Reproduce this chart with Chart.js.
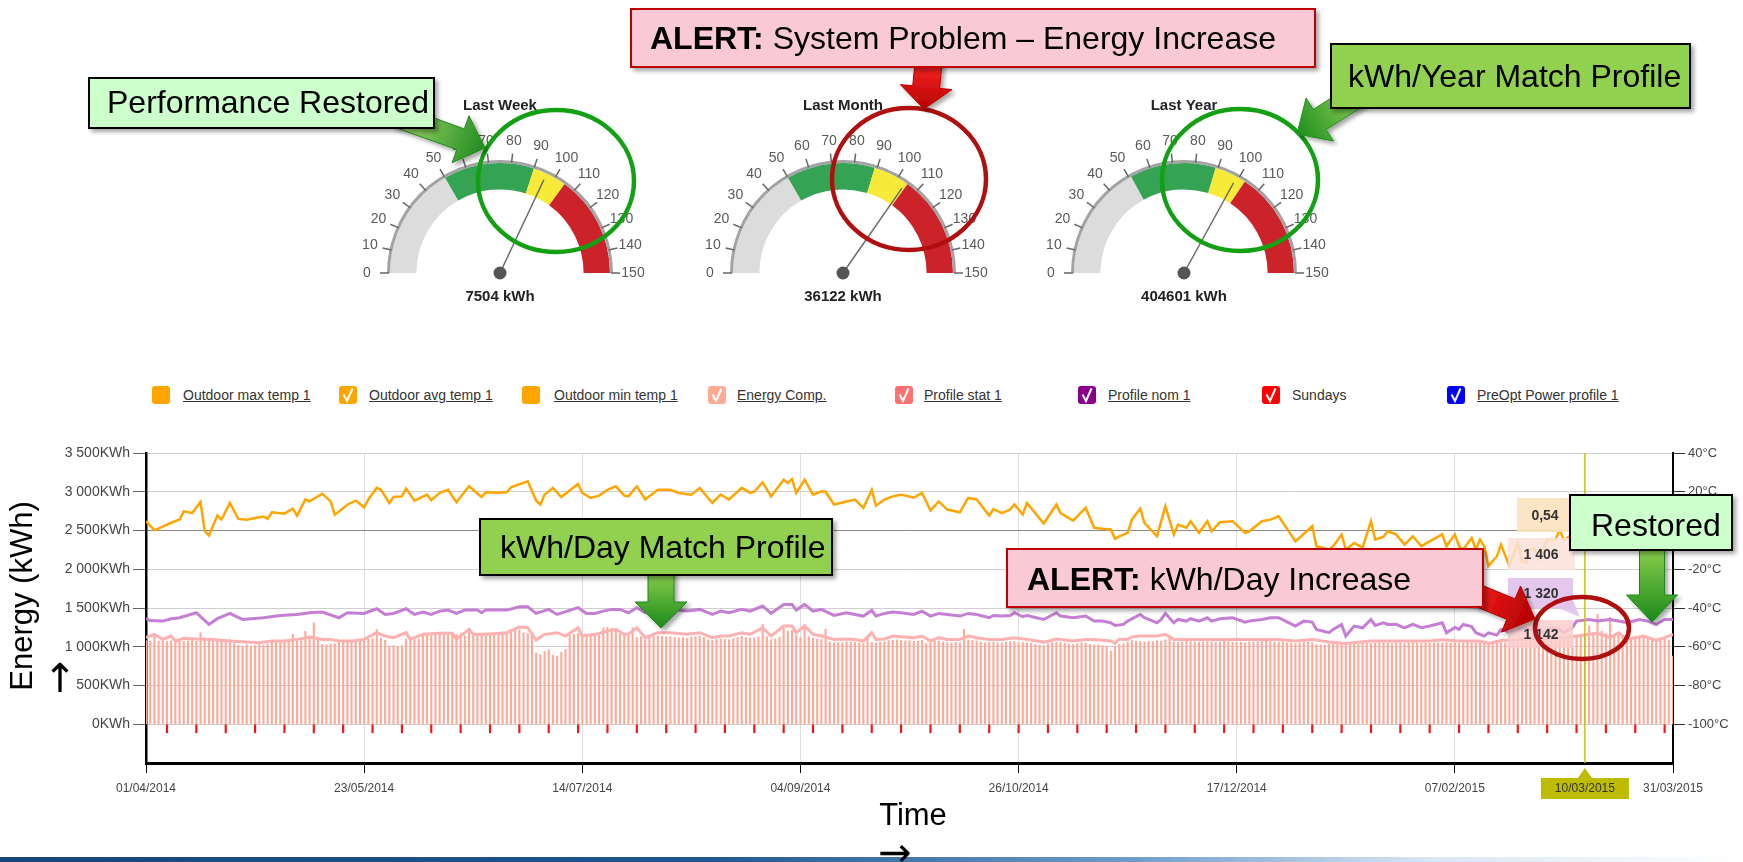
<!DOCTYPE html>
<html lang="en">
<head>
<meta charset="UTF-8">
<title>Energy Monitoring Dashboard</title>
<script src="https://cdn.jsdelivr.net/npm/chart.js"></script>
<style>
    body {
        margin: 0;
        width: 1743px;
        height: 862px;
        position: relative;
        overflow: hidden;
        background: #fff;
        font-family: Arial, "Liberation Sans", sans-serif;
    }
    canvas { position: absolute; }
    #mainChart { left: 0; top: 440px; }
    .legend-item { position: absolute; top: 386px; height: 18px; }
    .legend-box { position: absolute; left: 0; top: 0; width: 18px; height: 18px; border-radius: 3px; }
    .legend-text { position: absolute; top: 1px; white-space: nowrap; font-size: 14px; color: #333; }
    #overlay { position: absolute; left: 0; top: 0; }
    #bottomStrip {
        position: absolute; left: 0; top: 857px; width: 1743px; height: 5px;
        background: linear-gradient(90deg, #17467a 0%, #1f5590 40%, #6f9cc8 65%, #d8e6f3 82%, #ffffff 100%);
    }
</style>
</head>
<body>
<canvas id="gauge0" width="340" height="240"></canvas>
<canvas id="gauge1" width="340" height="240"></canvas>
<canvas id="gauge2" width="340" height="240"></canvas>
<canvas id="mainChart" width="1743" height="400"></canvas>
<div id="legend"></div>
<div id="bottomStrip"></div>
<svg id="overlay" width="1743" height="862" xmlns="http://www.w3.org/2000/svg"></svg>

<script>
// ---------- gauges ----------
const gaugeTitles = ['Last Week', 'Last Month', 'Last Year'];
const gaugeTotals = ['7504 kWh', '36122 kWh', '404601 kWh'];
const gaugeNeedles = [96, 104, 99];
const gaugeBands = [[50, 90, 105], [50, 89, 105], [51, 89, 103]]; // green / yellow / red start
const gaugeTicks = [0, 10, 20, 30, 40, 50, 60, 70, 80, 90, 100, 110, 120, 130, 140, 150];
const gaugeMax = 150;
const gaugeColors = ['#dcdcdc', '#34a354', '#f7ea38', '#cc2229'];
const gaugeCentersX = [500, 843, 1184];

// ---------- main chart ----------
const xTickLabels = ['01/04/2014', '23/05/2014', '14/07/2014', '04/09/2014', '26/10/2014', '17/12/2014', '07/02/2015', '31/03/2015'];
const highlightDay = 343;
const highlightLabel = '10/03/2015';
const tooltipValues = ['0,54', '1 406', '1 320', '1 142'];

// outdoor avg temp (°C) : [day, value]
const avgTempPoints = [
    [0,4.8],[2,0.1],[4,2],[6,4],[8,5.7],[9,9.9],[11,9],[13,14.8],[14,-0.4],[15,-2.6],[17,7.7],[18,5.7],[20,14.2],
    [22,6],[24,5.6],[26,6.5],[28,7.2],[29,6],[30,9.4],[33,8.7],[35,11.3],[36,7.7],[38,16],[39,15],[42,19],[44,15],
    [45,8.2],[48,13.3],[50,15.4],[52,12],[53,16],[55,22],[56,21],[58,14.2],[59,17.3],[61,17.6],[62,21.6],[64,15.4],
    [67,18.5],[68,15.6],[70,19.4],[72,21],[74,14.6],[77,22.8],[80,17.3],[81,19.7],[84,19.5],[86,19.7],[87,22.3],
    [91,25.4],[93,15.4],[94,13.4],[95,18.5],[97,22],[99,17.3],[103,24],[104,19.4],[106,16.8],[108,18],[110,21],
    [112,22.8],[114,18],[115,17.6],[117,22.8],[119,16],[122,21],[125,21],[127,19.4],[130,18.5],[132,22],[135,14.2],
    [137,18.5],[139,16],[142,22],[144,19.4],[145,20],[147,24.9],[149,17.6],[152,26.2],[153,24.5],[154,26.6],[155,19.4],
    [157,26.2],[159,18.5],[161,20.2],[162,20],[164,13.4],[167,15],[169,16],[171,11.7],[173,21],[174,12.8],[176,16],
    [178,17.6],[180,18.5],[183,17],[185,19.4],[187,10.3],[189,15],[191,10.8],[194,9.4],[196,16.8],[198,16],[201,7.7],
    [202,11.1],[204,9],[206,10.8],[207,13.4],[209,8.2],[210,14.2],[214,3.6],[217,13.4],[218,9],[221,5.1],[224,11.7],
    [226,1.4],[228,0.9],[230,0.5],[231,-4.3],[232,-3],[234,-1.2],[235,5.6],[237,11.3],[238,4],[241,-3],[242,4.8],
    [243,12.5],[245,-2],[246,3],[248,1.4],[249,4.8],[251,-1.2],[253,4.8],[254,-0.4],[256,4.3],[259,4.8],[262,-1.2],
    [263,-0.4],[266,4.8],[268,5.6],[270,7.3],[274,-5.6],[278,2.2],[279,-8.1],[282,-9.8],[283,-8.1],[285,-2.1],
    [286,-9.8],[288,-6.5],[290,-8.9],[292,4.8],[293,-4.7],[295,-3.2],[296,-0.4],[298,-2],[300,-7.3],[302,-3],
    [304,-8.1],[306,-5.6],[309,-2],[310,-8.1],[312,-2],[313,-8.1],[314,-9.8],[316,-3.8],[317,-9.8],[318,-4.7],
    [319,-8.1],[320,-18.4],[322,-13.4],[323,-7.3],[325,-18.4],[327,-6.4],[328,-15.8],[329,-16.7],[330,-9.8],
    [331,-9],[332,-15],[334,-4.7],[336,-4.7],[337,0.5],[338,-5],[340,-2],[342,1],[344,-3],[346,-1],[348,2],
    [350,-4],[352,0],[354,-2],[356,3],[358,-1],[360,2],[362,-3],[364,0]
];

// profile nom 1 (kWh) : [day, value]
const profileNomPoints = [
    [0,1362],[1,1340],[4,1331],[6,1362],[8,1374],[12,1439],[15,1288],[17,1362],[20,1430],[23,1352],[28,1374],
    [32,1404],[36,1417],[39,1439],[42,1447],[46,1374],[48,1439],[52,1430],[55,1490],[57,1417],[59,1430],[62,1490],
    [64,1417],[66,1447],[68,1417],[70,1460],[72,1473],[74,1430],[76,1473],[79,1473],[80,1439],[81,1473],[86,1473],
    [89,1516],[91,1516],[93,1430],[96,1482],[98,1417],[103,1504],[105,1430],[107,1430],[109,1460],[111,1482],
    [113,1482],[115,1439],[117,1504],[119,1439],[122,1482],[125,1482],[129,1460],[132,1482],[135,1417],[137,1460],
    [139,1439],[142,1482],[144,1460],[147,1525],[149,1430],[152,1546],[154,1546],[155,1473],[157,1546],[159,1460],
    [161,1482],[164,1404],[167,1439],[169,1417],[171,1396],[173,1469],[174,1396],[176,1430],[178,1447],[180,1439],
    [183,1417],[185,1460],[187,1396],[189,1430],[191,1417],[194,1396],[196,1430],[198,1417],[201,1374],[202,1404],
    [204,1396],[206,1404],[207,1439],[209,1387],[210,1404],[214,1352],[217,1439],[218,1396],[221,1374],[224,1396],
    [226,1331],[228,1331],[230,1309],[231,1275],[233,1288],[234,1331],[235,1360],[237,1417],[238,1374],[241,1309],
    [242,1352],[243,1430],[245,1309],[246,1352],[248,1331],[249,1362],[251,1331],[253,1374],[254,1331],[256,1362],
    [259,1374],[262,1318],[263,1331],[266,1352],[268,1374],[270,1374],[274,1267],[276,1331],[278,1318],[279,1224],
    [282,1181],[283,1224],[285,1288],[286,1138],[288,1267],[290,1245],[292,1352],[293,1275],[295,1309],[296,1288],
    [298,1290],[300,1245],[302,1288],[304,1245],[306,1267],[309,1309],[310,1181],[312,1250],[313,1224],[314,1288],
    [316,1260],[317,1181],[319,1138],[320,1180],[322,1150],[323,1224],[325,1190],[328,1245],[330,1224],[332,1245],
    [333,1181],[335,1245],[337,1224],[338,1181],[340,1245],[341,1331],[344,1352],[346,1331],[349,1352],[351,1331],
    [353,1309],[356,1352],[358,1331],[360,1288],[362,1352],[364,1352]
];

// profile stat 1 (kWh) : [day, value]
const profileStatPoints = [
    [0,1117],[2,1160],[4,1095],[6,1138],[7,1074],[9,1108],[12,1100],[16,1095],[20,1074],[24,1060],[27,1052],
    [30,1074],[33,1074],[36,1095],[39,1125],[42,1095],[44,1095],[46,1074],[49,1074],[52,1095],[55,1181],[57,1138],
    [59,1117],[62,1181],[63,1095],[66,1160],[70,1173],[73,1173],[74,1095],[77,1224],[78,1160],[81,1160],[86,1181],
    [89,1255],[91,1245],[93,1086],[95,1160],[98,1181],[100,1138],[103,1245],[104,1138],[107,1160],[110,1202],
    [112,1224],[114,1160],[115,1160],[117,1245],[119,1117],[122,1181],[125,1181],[129,1160],[132,1181],[135,1117],
    [137,1138],[139,1138],[142,1181],[144,1160],[147,1245],[149,1138],[152,1267],[154,1267],[155,1181],[157,1267],
    [159,1160],[161,1138],[164,1095],[167,1100],[169,1095],[171,1074],[173,1181],[174,1095],[176,1100],[178,1138],
    [180,1130],[183,1117],[185,1138],[187,1074],[189,1117],[191,1095],[194,1095],[196,1138],[198,1117],[201,1095],
    [204,1095],[207,1117],[210,1095],[214,1060],[217,1100],[218,1095],[221,1074],[224,1095],[226,1095],[230,1074],
    [231,1043],[232,1100],[234,1095],[235,1125],[237,1138],[241,1138],[243,1160],[245,1095],[248,1095],[251,1095],
    [254,1095],[259,1095],[263,1095],[270,1095],[274,1074],[278,1095],[282,1060],[286,1043],[292,1074],[296,1074],
    [301,1074],[306,1074],[309,1090],[313,1074],[318,1074],[320,1043],[323,1080],[328,1095],[333,1103],[338,1117],
    [341,1138],[344,1160],[346,1173],[349,1117],[351,1181],[353,1095],[357,1138],[360,1086],[362,1117],[364,1160]
];

// daily energy (kWh), one value per day from 01/04/2014
const energyDaily = [
    1080,1075,1160,1070,1085,1065,1078, 1072,1080,1068,1075,1082,1070,1181, 1090,1095,1085,1098,1092,1088,1095,
    1040,1020,1010,1025,1005,1015,1030, 1020,1035,1074,1070,1078,1072,1068, 1160,1075,1080,1200,1120,1310,1090,
    1030,1025,1035,1040,1074,1060,1070, 1065,1078,1072,1090,1095,1100,1224, 1110,1085,1009,1015,1005,1012,1100,
    1095,1092,1098,1165,1170,1160,1175, 1180,1170,1165,1175,1160,1172,1140, 1180,1175,1170,1165,1178,1172,1168,
    1175,1170,1180,1224,1230,1215,1180, 1170,1150,920,900,940,960,890,      880,930,966,1150,1160,1170,1165,
    1160,1150,1165,1170,1245,1250,1240, 1235,1160,1150,1140,1245,1120,1130, 1090,1125,1130,1140,1135,1128,1130,
    1120,1115,1118,1110,1125,1130,1135, 1120,1090,1080,1095,1100,1095,1090, 1105,1120,1135,1118,1110,1115,1125,
    1288,1130,1090,1100,1120,1245,1200, 1210,1150,1120,1288,1130,1110,1100, 1095,1224,1060,1052,1055,1050,1062,
    1060,1058,1052,1040,1130,1055,1050, 1060,1065,1080,1085,1090,1082,1075, 1078,1070,1072,1085,1040,1045,1070,
    1075,1060,1055,1050,1058,1052,1224, 1090,1080,1075,1060,1050,1055,1058, 1052,1050,1060,1065,1070,1050,1055,
    1052,1045,1030,1020,1015,1040,1055, 1060,1055,1045,1035,1030,1040,1050, 1048,1030,1020,1025,1015,1010,945,
    1005,1030,1040,1060,1080,1070,1065, 1060,1070,1065,1080,1075,1090,1110, 1060,1055,1060,1070,1065,1060,1058,
    1062,1065,1060,1055,1062,1070,1065, 1060,1055,1058,1050,1062,1060,1065, 1068,1070,1065,1060,1058,1062,1050,
    1045,1040,1050,1055,1060,1052,1030, 1025,1020,1030,1040,1035,1030,1020, 1035,1040,1030,1045,1050,1040,1045,
    1050,1048,1045,1040,1052,1050,1040, 1045,1050,1048,1040,1052,1045,1050, 1052,1050,1055,1048,1052,1045,1050,
    1055,1050,1048,1052,1040,1035,1045, 1050,1055,1052,1048,1060,1055,1058, 1062,1065,1060,1070,1068,1072,1075,
    1080,1085,1090,1095,1110,1140,1150, 1160,1267,1180,1417,1200,1170,1380, 1160,1180,1150,1120,1100,1095,1110,
    1120,1105,1090,1080,1095,1100,1085, 880
];

// Sunday markers (day index)
const sundayDays = [5,12,19,26,33,40,47,54,61,68,75,82,89,96,103,110,117,124,131,138,145,152,159,166,173,180,
    187,194,201,208,215,222,229,236,243,250,257,264,271,278,285,292,299,306,313,320,327,334,341,348,355,362];
const sundayTick = [-110, 0];

// legend
const legendNames = ['Outdoor max temp 1', 'Outdoor avg temp 1', 'Outdoor min temp 1', 'Energy Comp.',
    'Profile stat 1', 'Profile nom 1', 'Sundays', 'PreOpt Power profile 1'];
const legendColors = ['#ffa500', '#ffa500', '#ffa500', '#ffab94', '#ff7070', '#8b008b', '#ff0000', '#0000ff'];
const legendChecked = [false, true, false, true, true, true, true, true];
const legendUnderlined = [true, true, true, true, true, true, false, true];
const legendBoxX = [152, 339, 522, 708, 895, 1078, 1262, 1447];
const legendTextX = [183, 369, 554, 737, 924, 1108, 1292, 1477];

Chart.defaults.font.family = 'Arial, "Liberation Sans", sans-serif';

// ---------- gauges ----------
const gaugeDecor = {
    id: 'gaugeDecor',
    afterDatasetsDraw(chart, args, opts) {
        const arc = chart.getDatasetMeta(0).data[0];
        const cx = arc.x, cy = arc.y, R = arc.outerRadius;
        const ctx = chart.ctx;
        const ang = v => Math.PI + v / gaugeMax * Math.PI;
        ctx.save();
        ctx.beginPath();
        ctx.arc(cx, cy, R + 1.5, Math.PI, 2 * Math.PI);
        ctx.strokeStyle = '#a3a3a3';
        ctx.lineWidth = 3;
        ctx.stroke();

        ctx.font = '14px Arial, "Liberation Sans", sans-serif';
        ctx.fillStyle = '#5a5a5a';
        ctx.textAlign = 'center';
        ctx.textBaseline = 'middle';
        gaugeTicks.forEach(v => {
            const a = ang(v), c = Math.cos(a), s = Math.sin(a);
            ctx.beginPath();
            ctx.moveTo(cx + c * (R + 1), cy + s * (R + 1));
            ctx.lineTo(cx + c * (R + 10), cy + s * (R + 10));
            ctx.strokeStyle = '#666';
            ctx.lineWidth = 1.5;
            ctx.stroke();
            ctx.fillText(String(v), cx + c * 133, cy + s * 133);
        });

        const a = ang(opts.needle);
        ctx.beginPath();
        ctx.moveTo(cx, cy);
        ctx.lineTo(cx + Math.cos(a) * (R - 7), cy + Math.sin(a) * (R - 7));
        ctx.strokeStyle = '#6a6a6a';
        ctx.lineWidth = 1.5;
        ctx.stroke();
        ctx.beginPath();
        ctx.arc(cx, cy, 6.5, 0, 2 * Math.PI);
        ctx.fillStyle = '#555';
        ctx.fill();

        ctx.fillStyle = '#222';
        ctx.font = 'bold 15px Arial, "Liberation Sans", sans-serif';
        ctx.fillText(opts.title, cx, cy - 167);
        ctx.fillText(opts.total, cx, cy + 24);
        ctx.restore();
    }
};

gaugeTitles.forEach((title, i) => {
    const canvas = document.getElementById('gauge' + i);
    canvas.style.left = (gaugeCentersX[i] - 170) + 'px';
    canvas.style.top = '93px';
    const b = gaugeBands[i];
    new Chart(canvas, {
        type: 'doughnut',
        data: {
            datasets: [{
                data: [b[0], b[1] - b[0], b[2] - b[1], gaugeMax - b[2]],
                backgroundColor: gaugeColors,
                borderWidth: 0
            }]
        },
        options: {
            responsive: false,
            animation: false,
            events: [],
            rotation: -90,
            circumference: 180,
            cutout: '76%',
            layout: { padding: { left: 60, right: 60, top: 70, bottom: 60 } },
            plugins: {
                legend: { display: false },
                tooltip: { enabled: false },
                gaugeDecor: { title: title, total: gaugeTotals[i], needle: gaugeNeedles[i] }
            }
        },
        plugins: [gaugeDecor]
    });
});

// ---------- main chart ----------
const toXY = pairs => pairs.map(p => ({ x: p[0], y: p[1] }));
const kwhLabel = v => (v >= 1000 ? Math.floor(v / 1000) + ' ' + String(v % 1000).padStart(3, '0') : String(v)) + 'KWh';

const highlightPlugin = {
    id: 'highlightPlugin',
    afterDatasetsDraw(chart) {
        const ctx = chart.ctx, area = chart.chartArea;
        const x = chart.scales.x.getPixelForValue(highlightDay);
        ctx.save();
        ctx.beginPath();
        ctx.moveTo(x, area.top);
        ctx.lineTo(x, area.bottom);
        ctx.strokeStyle = '#c8c400';
        ctx.lineWidth = 1.5;
        ctx.stroke();
        ctx.restore();
    },
    afterDraw(chart) {
        const ctx = chart.ctx, area = chart.chartArea;
        const x = chart.scales.x.getPixelForValue(highlightDay);
        const top = area.bottom + 15, w = 88, h = 21;
        ctx.save();
        ctx.fillStyle = '#bdbc00';
        ctx.beginPath();
        ctx.moveTo(x - 7, top);
        ctx.lineTo(x, top - 10);
        ctx.lineTo(x + 7, top);
        ctx.fill();
        ctx.fillRect(x - w / 2, top, w, h);
        ctx.fillStyle = '#333';
        ctx.font = '12px Arial, "Liberation Sans", sans-serif';
        ctx.textAlign = 'center';
        ctx.textBaseline = 'middle';
        ctx.fillText(highlightLabel, x, top + h / 2);
        ctx.restore();
    }
};

new Chart(document.getElementById('mainChart'), {
    type: 'line',
    data: {
        datasets: [
            { type: 'line', label: 'Outdoor avg temp 1', data: toXY(avgTempPoints), yAxisID: 'yTemp',
              borderColor: '#ffa500', borderWidth: 2.5, pointRadius: 0, tension: 0, order: 1 },
            { type: 'line', label: 'Profile nom 1', data: toXY(profileNomPoints), yAxisID: 'y',
              borderColor: '#c47ed3', borderWidth: 3, pointRadius: 0, tension: 0, order: 2 },
            { type: 'line', label: 'Profile stat 1', data: toXY(profileStatPoints), yAxisID: 'y',
              borderColor: '#ffb0b0', borderWidth: 3, pointRadius: 0, tension: 0, order: 3 },
            { type: 'bar', label: 'Energy Comp.', data: energyDaily.map((v, i) => ({ x: i, y: v })), yAxisID: 'y',
              backgroundColor: '#ffa898', barThickness: 1.4, grouped: false, order: 4 },
            { type: 'bar', label: 'Sundays', data: sundayDays.map(d => ({ x: d, y: sundayTick })), yAxisID: 'y',
              backgroundColor: '#ff1010', barThickness: 1.5, grouped: false, order: 5 }
        ]
    },
    options: {
        responsive: false,
        animation: false,
        events: [],
        layout: { padding: { top: 13, left: 0, right: 0, bottom: 0 } },
        plugins: { legend: { display: false }, tooltip: { enabled: false } },
        scales: {
            x: {
                type: 'linear', min: 0, max: 364, offset: false,
                grid: { color: '#dedede', tickLength: 10, tickColor: '#000', offset: false },
                border: { color: '#000', width: 3 },
                ticks: {
                    stepSize: 52, autoSkip: false, maxRotation: 0, padding: 8,
                    color: '#444', font: { size: 12 },
                    callback: v => xTickLabels[v / 52] ?? ''
                },
                afterFit: s => { s.height = 77; }
            },
            y: {
                position: 'left', min: -500, max: 3500,
                grid: {
                    color: c => c.tick.value === 2500 ? '#8a8a8a' : (c.tick.value < 0 ? 'rgba(0,0,0,0)' : '#cfcfcf'),
                    tickColor: c => c.tick.value < 0 ? 'rgba(0,0,0,0)' : '#666',
                    tickLength: 13
                },
                border: { color: '#000', width: 2.5 },
                ticks: {
                    stepSize: 500, padding: 3, color: '#444', font: { size: 14 },
                    callback: v => v < 0 ? '' : kwhLabel(v)
                },
                afterFit: s => { s.width = 146; }
            },
            yTemp: {
                position: 'right', min: -120, max: 40,
                grid: { drawOnChartArea: false, tickLength: 12,
                        tickColor: c => c.tick.value < -100 ? 'rgba(0,0,0,0)' : '#333' },
                border: { color: '#000', width: 2 },
                ticks: {
                    stepSize: 20, padding: 3, color: '#444', font: { size: 13 },
                    callback: v => v < -100 ? '' : v + '°C'
                },
                afterFit: s => { s.width = 70; }
            }
        }
    },
    plugins: [highlightPlugin]
});

// ---------- legend ----------
const legend = document.getElementById('legend');
legendNames.forEach((name, i) => {
    const item = document.createElement('div');
    item.className = 'legend-item';
    item.style.left = legendBoxX[i] + 'px';
    const box = document.createElement('div');
    box.className = 'legend-box';
    box.style.background = legendColors[i];
    if (legendChecked[i]) {
        box.innerHTML = '<svg width="18" height="18"><polyline points="4.5,8.5 8,15 13.5,2.5" fill="none" stroke="#fff" stroke-width="2"/></svg>';
    }
    const txt = document.createElement('span');
    txt.className = 'legend-text';
    txt.style.left = (legendTextX[i] - legendBoxX[i]) + 'px';
    txt.style.textDecoration = legendUnderlined[i] ? 'underline' : 'none';
    txt.textContent = name;
    item.appendChild(box);
    item.appendChild(txt);
    legend.appendChild(item);
});

// ---------- annotations ----------
function blockArrow(x1, y1, x2, y2, shaft, head, headLen) {
    const len = Math.hypot(x2 - x1, y2 - y1);
    const ux = (x2 - x1) / len, uy = (y2 - y1) / len, nx = -uy, ny = ux;
    const bx = x2 - ux * headLen, by = y2 - uy * headLen;
    const p = (x, y) => x.toFixed(1) + ',' + y.toFixed(1);
    return [p(x1 + nx * shaft / 2, y1 + ny * shaft / 2), p(bx + nx * shaft / 2, by + ny * shaft / 2),
            p(bx + nx * head / 2, by + ny * head / 2), p(x2, y2), p(bx - nx * head / 2, by - ny * head / 2),
            p(bx - nx * shaft / 2, by - ny * shaft / 2), p(x1 - nx * shaft / 2, y1 - ny * shaft / 2)].join(' ');
}

const arrows = [
    { a: [396, 116, 485, 148], shaft: 22, head: 50, hl: 26, c: ['#a6dc6a', '#228b22'] },
    { a: [929, 58, 924, 109], shaft: 27, head: 52, hl: 22, c: ['#ff2a2a', '#b80000'] },
    { a: [1366, 90, 1297, 134], shaft: 24, head: 51, hl: 27, c: ['#9ad65a', '#1f8f1f'] },
    { a: [661, 570, 661, 628], shaft: 26, head: 52, hl: 26, c: ['#8fd14f', '#1a8a1a'] },
    { a: [1462, 589, 1535, 619], shaft: 22, head: 50, hl: 26, c: ['#ff2020', '#b00000'] },
    { a: [1652, 545, 1652, 622], shaft: 25, head: 51, hl: 27, c: ['#8fd14f', '#1a8a1a'] }
];

const boxes = [
    { x: 89, y: 78, w: 345, h: 50, fill: '#ccffcc', stroke: '#000', tx: 107, ty: 113, size: 32, bold: '', text: 'Performance Restored' },
    { x: 631, y: 9, w: 684, h: 58, fill: '#f9c9d5', stroke: '#c00000', tx: 650, ty: 49, size: 32, bold: 'ALERT:', text: ' System Problem – Energy Increase' },
    { x: 1331, y: 44, w: 359, h: 64, fill: '#92d050', stroke: '#000', tx: 1348, ty: 87, size: 32, bold: '', text: 'kWh/Year Match Profile' },
    { x: 480, y: 519, w: 352, h: 56, fill: '#92d050', stroke: '#000', tx: 500, ty: 558, size: 32, bold: '', text: 'kWh/Day Match Profile' },
    { x: 1007, y: 549, w: 476, h: 58, fill: '#f9c9d5', stroke: '#c00000', tx: 1027, ty: 590, size: 32, bold: 'ALERT:', text: ' kWh/Day Increase' },
    { x: 1570, y: 495, w: 162, h: 55, fill: '#ccffcc', stroke: '#000', tx: 1591, ty: 536, size: 32, bold: '', text: 'Restored' }
];

const tips = [
    { x: 1517, y: 498, w: 52, h: 34, fill: 'rgba(251,226,190,0.9)', cx: 1545 },
    { x: 1508, y: 538, w: 67, h: 32, fill: 'rgba(253,226,218,0.85)', cx: 1541 },
    { x: 1508, y: 578, w: 65, h: 30, fill: 'rgba(226,194,234,0.92)', cx: 1541 },
    { x: 1508, y: 620, w: 65, h: 28, fill: 'rgba(250,205,205,0.85)', cx: 1541 }
];

const ellipses = [
    { cx: 556, cy: 181, rx: 78, ry: 71, c: '#13a013' },
    { cx: 909, cy: 179, rx: 77, ry: 71, c: '#b00f0f' },
    { cx: 1240, cy: 180, rx: 78, ry: 71, c: '#13a013' }
];

let svg = '<defs><filter id="shadow" x="-10%" y="-10%" width="130%" height="140%">' +
    '<feDropShadow dx="3" dy="3" stdDeviation="2" flood-color="#000" flood-opacity="0.35"/></filter>';
arrows.forEach((ar, i) => {
    svg += '<linearGradient id="ag' + i + '" gradientUnits="userSpaceOnUse" x1="' + ar.a[0] + '" y1="' + ar.a[1] +
        '" x2="' + ar.a[2] + '" y2="' + ar.a[3] + '"><stop offset="0" stop-color="' + ar.c[0] +
        '"/><stop offset="1" stop-color="' + ar.c[1] + '"/></linearGradient>';
});
svg += '</defs>';

// tooltips
tips.forEach((t, i) => {
    svg += '<rect x="' + t.x + '" y="' + t.y + '" width="' + t.w + '" height="' + t.h + '" fill="' + t.fill + '"/>';
    svg += '<text x="' + t.cx + '" y="' + (t.y + t.h / 2 + 5) + '" text-anchor="middle" font-family="Arial, Liberation Sans, sans-serif" ' +
        'font-size="14" font-weight="bold" fill="#333">' + tooltipValues[i] + '</text>';
});
svg += '<polygon points="1558,608 1573,600 1580,617" fill="rgba(226,194,234,0.9)"/>';

// ellipses
ellipses.forEach(e => {
    svg += '<ellipse cx="' + e.cx + '" cy="' + e.cy + '" rx="' + e.rx + '" ry="' + e.ry + '" fill="none" stroke="' + e.c + '" stroke-width="4.5"/>';
});
svg += '<ellipse cx="1582" cy="628" rx="47" ry="31" fill="none" stroke="#b00f0f" stroke-width="4.5"/>';

// arrows
arrows.forEach((ar, i) => {
    svg += '<polygon points="' + blockArrow(ar.a[0], ar.a[1], ar.a[2], ar.a[3], ar.shaft, ar.head, ar.hl) +
        '" fill="url(#ag' + i + ')" stroke="' + ar.c[1] + '" stroke-width="1" filter="url(#shadow)"/>';
});

// callout boxes
boxes.forEach(b => {
    svg += '<rect x="' + b.x + '" y="' + b.y + '" width="' + b.w + '" height="' + b.h + '" fill="' + b.fill +
        '" stroke="' + b.stroke + '" stroke-width="2" filter="url(#shadow)"/>';
    svg += '<text x="' + b.tx + '" y="' + b.ty + '" font-family="Arial, Liberation Sans, sans-serif" font-size="' + b.size + '" fill="#000">' +
        (b.bold ? '<tspan font-weight="bold">' + b.bold + '</tspan>' : '') + '<tspan>' + b.text + '</tspan></text>';
});

// axis titles
svg += '<text transform="translate(32,596) rotate(-90)" text-anchor="middle" font-family="Arial, Liberation Sans, sans-serif" font-size="31" fill="#000">Energy (kWh)</text>';
svg += '<text x="60" y="692" text-anchor="middle" font-family="DejaVu Sans, sans-serif" font-size="40" fill="#000">↑</text>';
svg += '<text x="913" y="825" text-anchor="middle" font-family="Arial, Liberation Sans, sans-serif" font-size="31" fill="#000">Time</text>';
svg += '<text x="895" y="866" text-anchor="middle" font-family="DejaVu Sans, sans-serif" font-size="40" fill="#000">→</text>';

document.getElementById('overlay').innerHTML = svg;
</script>
</body>
</html>
